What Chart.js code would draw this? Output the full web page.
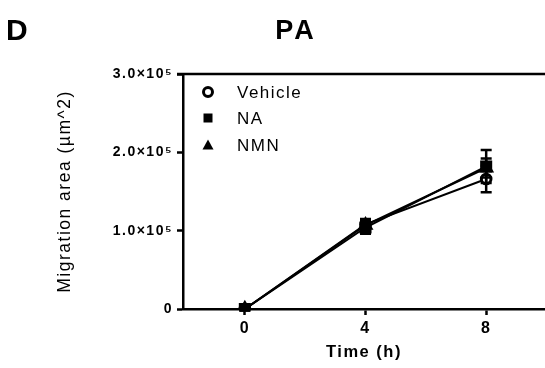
<!DOCTYPE html>
<html>
<head>
<meta charset="utf-8">
<script src="https://cdn.jsdelivr.net/npm/chart.js@4.4.1/dist/chart.umd.min.js"></script>
<style>
  html, body { margin: 0; padding: 0; background: #fff; }
  #wrap { width: 545px; height: 368px; position: relative; }
  canvas { display: block; }
</style>
</head>
<body>
<div id="wrap"><canvas id="c" width="545" height="368"></canvas></div>
<script>
// Wound-closure migration area over time, PA treatment groups (mean ± SEM)
const hours = [0, 4, 8];
const seriesNames = ['Vehicle', 'NA', 'NMN'];
const vehicleMean = [0, 108000, 166000];
const vehicleErr  = [2000, 7000, 17000];
const naMean      = [0, 104000, 182000];
const naErr       = [2000, 8000, 21000];
const nmnMean     = [0, 107000, 180000];
const nmnErr      = [1000, 5000, 12000];
const xTickValues = [0, 4, 8];
const yTickValues = [0, 100000, 200000, 300000];
const yTickLabels = ['0', '1.0×10⁵', '2.0×10⁵', '3.0×10⁵'];

const FONT = '"Liberation Sans", Arial, sans-serif';

function series(label, means, errs, style, fill, radius, order) {
  return {
    label: label,
    data: hours.map((h, i) => ({ x: h, y: means[i] })),
    errors: errs,
    showLine: true,
    borderColor: '#000',
    borderWidth: 2,
    pointStyle: style,
    pointRadius: radius,
    pointBorderWidth: 3,
    pointBackgroundColor: fill,
    pointBorderColor: '#000',
    order: order
  };
}

// vertical error bars with caps, placed through the chart scales
const errorBars = {
  id: 'errorBars',
  afterDatasetsDraw(chart) {
    const { ctx, scales: { x, y } } = chart;
    ctx.save();
    ctx.strokeStyle = '#000';
    ctx.lineWidth = 2.5;
    chart.data.datasets.forEach(ds => {
      ds.data.forEach((p, i) => {
        const e = ds.errors[i];
        const px = x.getPixelForValue(p.x);
        const yHi = y.getPixelForValue(p.y + e);
        const yLo = y.getPixelForValue(p.y - e);
        ctx.beginPath();
        ctx.moveTo(px, yHi); ctx.lineTo(px, yLo);
        ctx.moveTo(px - 5.5, yHi); ctx.lineTo(px + 5.5, yHi);
        ctx.moveTo(px - 5.5, yLo); ctx.lineTo(px + 5.5, yLo);
        ctx.stroke();
      });
    });
    ctx.restore();
  }
};

// wider tracking for all axis text
const tracking = {
  id: 'tracking',
  beforeDraw(chart) { chart.ctx.letterSpacing = '1.5px'; }
};

// top frame line, panel letter, panel title and the symbol key
const decorations = {
  id: 'decorations',
  afterDraw(chart) {
    const { ctx, chartArea } = chart;
    ctx.save();
    ctx.strokeStyle = '#000';
    ctx.lineWidth = 2.5;
    ctx.beginPath();
    ctx.moveTo(chartArea.left - 6, chartArea.top);
    ctx.lineTo(chartArea.right, chartArea.top);
    ctx.stroke();

    ctx.fillStyle = '#000';
    ctx.letterSpacing = '0px';
    ctx.textBaseline = 'alphabetic';
    ctx.textAlign = 'left';
    ctx.font = 'bold 30px ' + FONT;
    ctx.fillText('D', 6, 40);
    ctx.letterSpacing = '3px';
    ctx.font = 'bold 27px ' + FONT;
    ctx.textAlign = 'center';
    ctx.fillText('PA', 296, 39);

    const keyX = 208, keyY = [92, 118, 145];
    ctx.textAlign = 'left';
    ctx.textBaseline = 'middle';
    ctx.font = '17px ' + FONT;
    ctx.letterSpacing = '1.5px';
    chart.data.datasets.forEach((ds, i) => {
      const cy = keyY[i];
      ctx.beginPath();
      if (ds.pointStyle === 'circle') {
        ctx.arc(keyX, cy, 4.5, 0, Math.PI * 2);
        ctx.fillStyle = '#fff'; ctx.fill();
        ctx.lineWidth = 3; ctx.stroke();
      } else if (ds.pointStyle === 'rect') {
        ctx.rect(keyX - 4.5, cy - 4.5, 9, 9);
        ctx.fillStyle = '#000'; ctx.fill();
      } else {
        ctx.moveTo(keyX, cy - 5.5);
        ctx.lineTo(keyX + 5.5, cy + 4.5);
        ctx.lineTo(keyX - 5.5, cy + 4.5);
        ctx.closePath();
        ctx.fillStyle = '#000'; ctx.fill();
      }
      ctx.fillStyle = '#000';
      ctx.fillText(ds.label, 237, cy + 1);
    });
    ctx.restore();
  }
};

new Chart(document.getElementById('c'), {
  type: 'scatter',
  data: {
    datasets: [
      series(seriesNames[0], vehicleMean, vehicleErr, 'circle', '#fff', 4.8, 2),
      series(seriesNames[1], naMean, naErr, 'rect', '#000', 6.4, 1),
      series(seriesNames[2], nmnMean, nmnErr, 'triangle', '#000', 6.2, 0)
    ]
  },
  options: {
    responsive: false,
    animation: false,
    devicePixelRatio: 1,
    layout: { autoPadding: false, padding: { left: 55, top: 74, right: 0, bottom: 6 } },
    plugins: { legend: { display: false }, tooltip: { enabled: false }, title: { display: false } },
    scales: {
      x: {
        type: 'linear',
        min: -2.05,
        max: 9.95,
        afterBuildTicks: s => { s.ticks = xTickValues.map(v => ({ value: v })); },
        afterFit: s => { s.height = 53; s.paddingLeft = 0; s.paddingRight = 0; },
        border: { display: true, color: '#000', width: 2.5 },
        grid: { display: true, drawOnChartArea: false, drawTicks: true, tickLength: 6, tickWidth: 2.5, tickColor: '#000', color: '#000' },
        ticks: { color: '#000', font: { family: FONT, size: 16, weight: 'bold' }, padding: 4, maxRotation: 0 },
        title: { display: true, text: 'Time (h)', color: '#000', font: { family: FONT, size: 16.5, weight: 'bold', lineHeight: 1.2 }, padding: { top: 0, bottom: 0 } }
      },
      y: {
        type: 'linear',
        min: 0,
        max: 300000,
        afterBuildTicks: s => { s.ticks = yTickValues.map(v => ({ value: v })); },
        afterFit: s => { s.width = 128; s.paddingTop = 0; s.paddingBottom = 0; },
        border: { display: true, color: '#000', width: 2.5 },
        grid: { display: true, drawOnChartArea: false, drawTicks: true, tickLength: 6, tickWidth: 2.5, tickColor: '#000', color: '#000' },
        ticks: {
          color: '#000',
          font: { family: FONT, size: 14, weight: 'bold' },
          padding: 4,
          callback: (v) => yTickLabels[yTickValues.indexOf(v)]
        },
        title: { display: true, text: 'Migration area (µm^2)', color: '#000', font: { family: FONT, size: 17.5, weight: 'normal', lineHeight: 1.2 }, padding: { top: 0, bottom: 0 } }
      }
    }
  },
  plugins: [tracking, errorBars, decorations]
});
</script>
</body>
</html>
